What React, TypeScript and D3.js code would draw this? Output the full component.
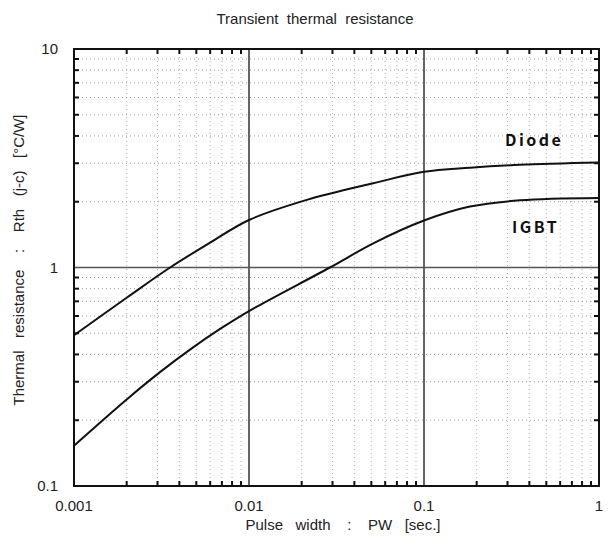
import React from "react";
import * as d3 from "d3";

const pulseWidthDiode = [0.001, 0.002, 0.00354, 0.006, 0.01, 0.0214, 0.0513, 0.1, 0.183, 0.354, 1];
const rthDiode = [0.49, 0.727, 1.0, 1.3, 1.65, 2.04, 2.43, 2.74, 2.86, 2.95, 3.02];
const pulseWidthIGBT = [0.001, 0.002, 0.0031, 0.0046, 0.0068, 0.01, 0.029, 0.0513, 0.1, 0.183, 0.354, 1];
const rthIGBT = [0.153, 0.249, 0.332, 0.421, 0.522, 0.632, 1.0, 1.29, 1.64, 1.9, 2.03, 2.08];
const xTickLabels = ["0.001", "0.01", "0.1", "1"];
const yTickLabels = ["0.1", "1", "10"];
const xDomain = [0.001, 1];
const yDomain = [0.1, 10];

const W = 611, H = 547;
const L = 74, R = 599, T = 49, B = 486;
const font = "'Liberation Sans', Arial, sans-serif";

export default function App() {
  const x = d3.scaleLog().domain(xDomain).range([L, R]);
  const y = d3.scaleLog().domain(yDomain).range([B, T]);

  const xMinor: number[] = [];
  for (const d of [0.001, 0.01, 0.1]) for (let k = 2; k <= 9; k++) xMinor.push(d * k);
  const yMinor: number[] = [];
  for (const d of [0.1, 1]) for (let k = 2; k <= 9; k++) yMinor.push(d * k);

  const line = d3
    .line<[number, number]>()
    .x((d) => x(d[0]))
    .y((d) => y(d[1]))
    .curve(d3.curveCatmullRom.alpha(0.5));

  const diode = line(pulseWidthDiode.map((p, i) => [p, rthDiode[i]] as [number, number])) || "";
  const igbt = line(pulseWidthIGBT.map((p, i) => [p, rthIGBT[i]] as [number, number])) || "";

  return (
    <svg width={W} height={H} style={{ position: "absolute", left: 0, top: 0, background: "#fff" }}>
      {/* minor grid */}
      {xMinor.map((v, i) => (
        <line key={"xm" + i} x1={x(v)} x2={x(v)} y1={T} y2={B} stroke="#b4b4b4" strokeWidth={1} strokeDasharray="1,3" />
      ))}
      {yMinor.map((v, i) => (
        <line key={"ym" + i} x1={L} x2={R} y1={y(v)} y2={y(v)} stroke="#9c9c9c" strokeWidth={1} strokeDasharray="1,3" />
      ))}
      {/* major grid */}
      {[0.01, 0.1].map((v) => (
        <line key={"xM" + v} x1={x(v)} x2={x(v)} y1={T} y2={B} stroke="#111" strokeWidth={1.3} />
      ))}
      <line x1={L} x2={R} y1={y(1)} y2={y(1)} stroke="#555" strokeWidth={1.3} />
      {/* ticks */}
      {xMinor.map((v, i) => (
        <g key={"xt" + i}>
          <line x1={x(v)} x2={x(v)} y1={B} y2={B - 5} stroke="#111" strokeWidth={2} />
          <line x1={x(v)} x2={x(v)} y1={T} y2={T + 5} stroke="#111" strokeWidth={2} />
        </g>
      ))}
      {yMinor.map((v, i) => (
        <g key={"yt" + i}>
          <line x1={L} x2={L + 5} y1={y(v)} y2={y(v)} stroke="#111" strokeWidth={2} />
          <line x1={R} x2={R - 5} y1={y(v)} y2={y(v)} stroke="#111" strokeWidth={2} />
        </g>
      ))}
      {/* frame */}
      <rect x={L} y={T} width={R - L} height={B - T} fill="none" stroke="#111" strokeWidth={2} />
      {/* curves */}
      <path d={diode} fill="none" stroke="#111" strokeWidth={2} />
      <path d={igbt} fill="none" stroke="#111" strokeWidth={2} />
      {/* tick labels */}
      {xTickLabels.map((t) => (
        <text key={"xl" + t} x={x(+t)} y={511} textAnchor="middle" fontFamily={font} fontSize={15} fill="#222">
          {t}
        </text>
      ))}
      {yTickLabels.map((t) => (
        <text key={"yl" + t} x={58} y={y(+t) + 5} textAnchor="end" fontFamily={font} fontSize={15} fill="#222">
          {t}
        </text>
      ))}
      {/* titles */}
      <text x={315} y={24} textAnchor="middle" fontFamily={font} fontSize={15} fill="#222" style={{ whiteSpace: "pre" }}>
        {"Transient  thermal  resistance"}
      </text>
      <text x={343} y={530} textAnchor="middle" fontFamily={font} fontSize={15} fill="#222" style={{ whiteSpace: "pre" }}>
        {"Pulse   width    :    PW   [sec.]"}
      </text>
      <text
        transform={`translate(24,${260}) rotate(-90)`}
        textAnchor="middle"
        fontFamily={font}
        fontSize={15}
        fill="#222"
        style={{ whiteSpace: "pre" }}
      >
        {"Thermal   resistance    :    Rth   (j-c)   [°C/W]"}
      </text>
      {/* series labels */}
      <text x={505} y={146} fontFamily="'Noto Sans CJK JP', sans-serif" fontWeight={700} fontSize={16} letterSpacing={2.5} fill="#111">
        Diode
      </text>
      <text x={512} y={233} fontFamily="'Noto Sans CJK JP', sans-serif" fontWeight={700} fontSize={16} letterSpacing={2.5} fill="#111">
        IGBT
      </text>
    </svg>
  );
}
